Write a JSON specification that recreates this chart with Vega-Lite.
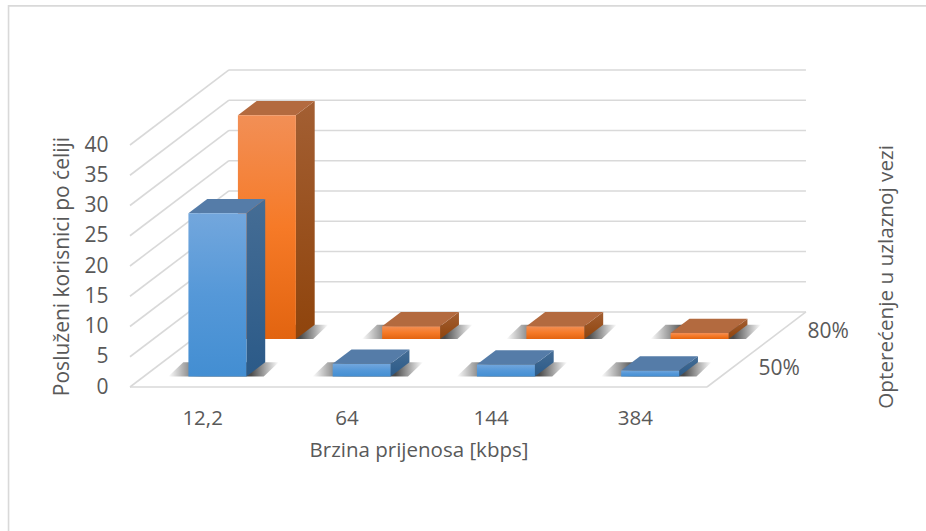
{
"$schema":"https://vega.github.io/schema/vega-lite/v6.json",
"autosize":{"type":"none"},
"padding":{"left":130,"top":145,"right":219,"bottom":144},
"width":577,"height":242,
"background":"white",
"config":{"view":{"stroke":null},"font":"Open Sans","axis":{"labelOverlap":false,"labelBound":false},"axisY":{"tickCount":9}},
"data":{"name":"bars","values":[
{"brzina":"12,2","opterecenje":"50%","korisnici":27},
{"brzina":"64","opterecenje":"50%","korisnici":2.1},
{"brzina":"144","opterecenje":"50%","korisnici":2},
{"brzina":"384","opterecenje":"50%","korisnici":1},
{"brzina":"12,2","opterecenje":"80%","korisnici":37},
{"brzina":"64","opterecenje":"80%","korisnici":2.1},
{"brzina":"144","opterecenje":"80%","korisnici":2.1},
{"brzina":"384","opterecenje":"80%","korisnici":1}
]},
"transform":[
{"calculate":"indexof(['12,2','64','144','384'],datum.brzina)","as":"i"},
{"calculate":"datum.opterecenje=='80%'?0.64:0.14","as":"t"},
{"calculate":"datum.i+0.309+datum.t*0.686","as":"xl"},
{"calculate":"datum.xl+0.402","as":"xr"},
{"calculate":"datum.t*12.4","as":"yb"},
{"calculate":"datum.yb+datum.korisnici","as":"yt"},
{"calculate":"0","as":"c0"},
{"calculate":"1","as":"c1"},
{"fold":["c0","c1"],"as":["corner","c"]},
{"calculate":"datum.c*0.19*0.686","as":"dx"},
{"calculate":"datum.c*0.19*12.4","as":"dy"},
{"calculate":"datum.xr+datum.dx","as":"sx"},
{"calculate":"datum.yb+datum.dy","as":"sy"},
{"calculate":"datum.yt+datum.dy","as":"sy2"},
{"calculate":"datum.xl+datum.dx","as":"tx"},
{"calculate":"datum.xr+datum.dx","as":"tx2"},
{"calculate":"datum.xl-0.14+datum.dx*0.8","as":"sh1"},
{"calculate":"datum.xr+0.12+datum.dx*0.8","as":"sh2"}
],
"layer":[
{"data":{"values":[{"okvir":"okvir"}]},"mark":{"type":"rect","fill":null,"stroke":"#d9d9d9","strokeWidth":1.6},
 "encoding":{"x":{"datum":-0.842,"type":"quantitative","scale":{"domain":[0,4],"nice":false,"zero":false},
   "title":"Brzina prijenosa [kbps]",
   "axis":{"values":[0.5,1.5,2.5,3.5],"labelExpr":"['12,2','64','144','384'][floor(datum.value)]","domain":false,"ticks":false,"grid":false,"labelOverlap":false,"labelPadding":21,"labelFontSize":20.5,"labelColor":"#595959","titleFontSize":20.5,"titleColor":"#595959","titleFontWeight":"normal","titlePadding":12}},
  "x2":{"datum":5.8},
  "y":{"datum":63,"type":"quantitative","scale":{"domain":[0,40],"nice":false,"zero":false},
   "title":"Posluženi korisnici po ćeliji",
   "axis":{"values":[0,5,10,15,20,25,30,35,40],"tickCount":9,"domain":false,"ticks":false,"grid":false,"labelOverlap":false,"offset":22,"labelPadding":0,"labelFontSize":21,"labelColor":"#595959","titleFontSize":21,"titleColor":"#595959","titleFontWeight":"normal","titlePadding":11}},
  "y2":{"datum":-30}}},
{"data":{"values":[{"crta":0},{"crta":5},{"crta":10},{"crta":15},{"crta":20},{"crta":25},{"crta":30},{"crta":35},{"crta":40}]},
 "transform":[{"calculate":"datum.crta+12.4","as":"straznja"}],
 "layer":[
  {"mark":{"type":"rule","stroke":"#d9d9d9","strokeWidth":1.6},"encoding":{"x":{"datum":0,"type":"quantitative"},"x2":{"datum":0.686},"y":{"field":"crta","type":"quantitative","title":"Posluženi korisnici po ćeliji"},"y2":{"field":"straznja"}}},
  {"mark":{"type":"rule","stroke":"#d9d9d9","strokeWidth":1.6},"encoding":{"x":{"datum":0.686,"type":"quantitative"},"x2":{"datum":4.686},"y":{"field":"straznja","type":"quantitative","title":"Posluženi korisnici po ćeliji"}}}
 ]},
{"data":{"values":[{"rub":"donji"}]},"mark":{"type":"rule","stroke":"#d9d9d9","strokeWidth":1.6},"encoding":{"x":{"datum":0,"type":"quantitative"},"x2":{"datum":4},"y":{"datum":0,"type":"quantitative"}}},
{"data":{"values":[{"rub":"desni"}]},"mark":{"type":"rule","stroke":"#d9d9d9","strokeWidth":1.6},"encoding":{"x":{"datum":4,"type":"quantitative"},"x2":{"datum":4.686},"y":{"datum":0,"type":"quantitative"},"y2":{"datum":12.4}}},
{"data":{"values":[{"o":"50%"},{"o":"80%"}]},"transform":[{"calculate":"datum.o=='80%'?4.84:4.5","as":"lx"},{"calculate":"datum.o=='80%'?9.1:3","as":"ly"}],
 "mark":{"type":"text","font":"Open Sans","fontSize":21,"fill":"#595959","baseline":"middle"},
 "encoding":{"x":{"field":"lx","type":"quantitative","title":"Brzina prijenosa [kbps]"},"y":{"field":"ly","type":"quantitative","title":"Posluženi korisnici po ćeliji"},"text":{"field":"o"}}},
{"data":{"values":[{"naslov":"Opterećenje u uzlaznoj vezi"}]},
 "mark":{"type":"text","font":"Open Sans","fontSize":20.7,"fill":"#595959","angle":270,"baseline":"middle"},
 "encoding":{"x":{"datum":5.248,"type":"quantitative"},"y":{"datum":18.2,"type":"quantitative"},"text":{"field":"naslov"}}},

{"transform":[{"filter":"datum.opterecenje=='80%'"}],"layer":[
 {"mark":{"type":"area","orient":"horizontal","fill":{"x1":0,"y1":0,"x2":1,"y2":0,"gradient":"linear","stops":[{"offset":0,"color":"rgba(0,0,0,0)"},{"offset":0.3,"color":"rgba(0,0,0,0.7)"},{"offset":0.75,"color":"rgba(0,0,0,0.7)"},{"offset":1,"color":"rgba(0,0,0,0)"}]}},"encoding":{"y":{"field":"sy","type":"quantitative","stack":null,"title":"Posluženi korisnici po ćeliji"},"x":{"field":"sh1","type":"quantitative","title":"Brzina prijenosa [kbps]"},"x2":{"field":"sh2"},"detail":{"field":"brzina"}}},
 {"mark":{"type":"area","orient":"vertical","fill":{"x1":0,"y1":0,"x2":0,"y2":1,"gradient":"linear","stops":[{"offset":0,"color":"#a35f33"},{"offset":1,"color":"#8f440c"}]}},"encoding":{"x":{"field":"sx","type":"quantitative","title":"Brzina prijenosa [kbps]"},"y":{"field":"sy2","type":"quantitative","stack":null,"title":"Posluženi korisnici po ćeliji"},"y2":{"field":"sy"},"detail":{"field":"brzina"}}},
 {"mark":{"type":"area","orient":"horizontal","fill":"#b36a3f"},"encoding":{"y":{"field":"sy2","type":"quantitative","stack":null,"title":"Posluženi korisnici po ćeliji"},"x":{"field":"tx","type":"quantitative","title":"Brzina prijenosa [kbps]"},"x2":{"field":"tx2"},"detail":{"field":"brzina"}}},
 {"transform":[{"filter":"datum.corner=='c0'"}],"mark":{"type":"rect","fill":{"x1":0,"y1":0,"x2":0,"y2":1,"gradient":"linear","stops":[{"offset":0,"color":"#f28f56"},{"offset":0.5,"color":"#f67a27"},{"offset":1,"color":"#e26410"}]}},"encoding":{"x":{"field":"xl","type":"quantitative","title":"Brzina prijenosa [kbps]"},"x2":{"field":"xr"},"y":{"field":"yb","type":"quantitative","title":"Posluženi korisnici po ćeliji"},"y2":{"field":"yt"}}}
]},
{"transform":[{"filter":"datum.opterecenje=='50%'"}],"layer":[
 {"mark":{"type":"area","orient":"horizontal","fill":{"x1":0,"y1":0,"x2":1,"y2":0,"gradient":"linear","stops":[{"offset":0,"color":"rgba(0,0,0,0)"},{"offset":0.3,"color":"rgba(0,0,0,0.7)"},{"offset":0.75,"color":"rgba(0,0,0,0.7)"},{"offset":1,"color":"rgba(0,0,0,0)"}]}},"encoding":{"y":{"field":"sy","type":"quantitative","stack":null,"title":"Posluženi korisnici po ćeliji"},"x":{"field":"sh1","type":"quantitative","title":"Brzina prijenosa [kbps]"},"x2":{"field":"sh2"},"detail":{"field":"brzina"}}},
 {"mark":{"type":"area","orient":"vertical","fill":{"x1":0,"y1":0,"x2":0,"y2":1,"gradient":"linear","stops":[{"offset":0,"color":"#456d95"},{"offset":1,"color":"#2b5a88"}]}},"encoding":{"x":{"field":"sx","type":"quantitative","title":"Brzina prijenosa [kbps]"},"y":{"field":"sy2","type":"quantitative","stack":null,"title":"Posluženi korisnici po ćeliji"},"y2":{"field":"sy"},"detail":{"field":"brzina"}}},
 {"mark":{"type":"area","orient":"horizontal","fill":"#557ca8"},"encoding":{"y":{"field":"sy2","type":"quantitative","stack":null,"title":"Posluženi korisnici po ćeliji"},"x":{"field":"tx","type":"quantitative","title":"Brzina prijenosa [kbps]"},"x2":{"field":"tx2"},"detail":{"field":"brzina"}}},
 {"transform":[{"filter":"datum.corner=='c0'"}],"mark":{"type":"rect","fill":{"x1":0,"y1":0,"x2":0,"y2":1,"gradient":"linear","stops":[{"offset":0,"color":"#73a7dd"},{"offset":0.5,"color":"#5598d8"},{"offset":1,"color":"#438ed2"}]}},"encoding":{"x":{"field":"xl","type":"quantitative","title":"Brzina prijenosa [kbps]"},"x2":{"field":"xr"},"y":{"field":"yb","type":"quantitative","title":"Posluženi korisnici po ćeliji"},"y2":{"field":"yt"}}}
]}
]
}
